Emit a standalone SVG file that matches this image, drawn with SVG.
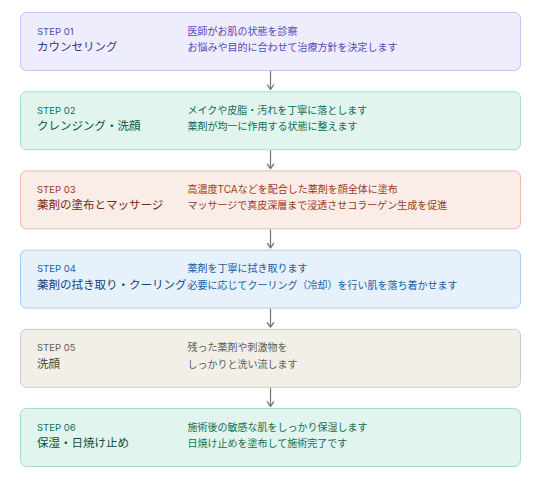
<svg xmlns="http://www.w3.org/2000/svg" width="535" height="478" viewBox="0 0 535 478">
<defs>
<marker id="arr" viewBox="0 0 10 10" refX="8.5" refY="5" markerWidth="9" markerHeight="9" markerUnits="userSpaceOnUse" orient="auto">
<path d="M3.5,1.5 L8.5,5 L3.5,8.5" fill="none" stroke="#73726c" stroke-width="1.4" stroke-linecap="round" stroke-linejoin="round"/>
</marker>
<style>
text{font-family:Inter,"Noto Sans CJK JP",sans-serif;}
.box{stroke-width:1;}
.step{font-size:9.5px;}
.title{font-size:11.5px;}
.desc{font-size:10px;}
.purple rect{fill:#EEEDFE;stroke:#C7C2F2;}
.purple .step,.purple .desc{fill:#534AB7;}
.purple .title{fill:#3C3489;}
.teal rect{fill:#E1F5EE;stroke:#A6DCC8;}
.teal .step,.teal .desc{fill:#0F6E56;}
.teal .title{fill:#085041;}
.coral rect{fill:#FAECE7;stroke:#EDBBA8;}
.coral .step,.coral .desc{fill:#993C1D;}
.coral .title{fill:#712B13;}
.blue rect{fill:#E6F1FB;stroke:#ABCBEE;}
.blue .step,.blue .desc{fill:#185FA5;}
.blue .title{fill:#0C447C;}
.gray rect{fill:#F1EFE8;stroke:#CFCCC3;}
.gray .step,.gray .desc{fill:#5F5E5A;}
.gray .title{fill:#444441;}
.conn{stroke:#73726c;stroke-width:1.2;fill:none;}
</style>
</defs>
<rect width="535" height="478" fill="#ffffff"/>
<g id="connectors">
<line class="conn" x1="270.5" y1="71" x2="270.5" y2="89.5" marker-end="url(#arr)"/>
<line class="conn" x1="270.5" y1="150.2" x2="270.5" y2="168.7" marker-end="url(#arr)"/>
<line class="conn" x1="270.5" y1="229.4" x2="270.5" y2="247.9" marker-end="url(#arr)"/>
<line class="conn" x1="270.5" y1="308.6" x2="270.5" y2="327.1" marker-end="url(#arr)"/>
<line class="conn" x1="270.5" y1="387.8" x2="270.5" y2="406.3" marker-end="url(#arr)"/>
</g>
<g id="step01" class="purple">
<rect class="box" x="20.5" y="12.5" width="500" height="58" rx="6"/>
<text class="step" x="37" y="34.5">STEP 01</text>
<text class="title" x="37" y="51">カウンセリング</text>
<text class="desc" x="187.5" y="34.5">医師がお肌の状態を診察</text>
<text class="desc" x="187.5" y="51">お悩みや目的に合わせて治療方針を決定します</text>
</g>
<g id="step02" class="teal">
<rect class="box" x="20.5" y="91.7" width="500" height="58" rx="6"/>
<text class="step" x="37" y="113.7">STEP 02</text>
<text class="title" x="37" y="130.2">クレンジング・洗顔</text>
<text class="desc" x="187.5" y="113.7">メイクや皮脂・汚れを丁寧に落とします</text>
<text class="desc" x="187.5" y="130.2">薬剤が均一に作用する状態に整えます</text>
</g>
<g id="step03" class="coral">
<rect class="box" x="20.5" y="170.9" width="500" height="58" rx="6"/>
<text class="step" x="37" y="192.9">STEP 03</text>
<text class="title" x="37" y="209.4">薬剤の塗布とマッサージ</text>
<text class="desc" x="187.5" y="192.9">高濃度TCAなどを配合した薬剤を顔全体に塗布</text>
<text class="desc" x="187.5" y="209.4">マッサージで真皮深層まで浸透させコラーゲン生成を促進</text>
</g>
<g id="step04" class="blue">
<rect class="box" x="20.5" y="250.1" width="500" height="58" rx="6"/>
<text class="step" x="37" y="272.1">STEP 04</text>
<text class="title" x="37" y="288.6">薬剤の拭き取り・クーリング</text>
<text class="desc" x="187.5" y="272.1">薬剤を丁寧に拭き取ります</text>
<text class="desc" x="187.5" y="288.6">必要に応じてクーリング（冷却）を行い肌を落ち着かせます</text>
</g>
<g id="step05" class="gray">
<rect class="box" x="20.5" y="329.3" width="500" height="58" rx="6"/>
<text class="step" x="37" y="351.3">STEP 05</text>
<text class="title" x="37" y="367.8">洗顔</text>
<text class="desc" x="187.5" y="351.3">残った薬剤や刺激物を</text>
<text class="desc" x="187.5" y="367.8">しっかりと洗い流します</text>
</g>
<g id="step06" class="teal">
<rect class="box" x="20.5" y="408.5" width="500" height="58" rx="6"/>
<text class="step" x="37" y="430.5">STEP 06</text>
<text class="title" x="37" y="447">保湿・日焼け止め</text>
<text class="desc" x="187.5" y="430.5">施術後の敏感な肌をしっかり保湿します</text>
<text class="desc" x="187.5" y="447">日焼け止めを塗布して施術完了です</text>
</g>
</svg>
